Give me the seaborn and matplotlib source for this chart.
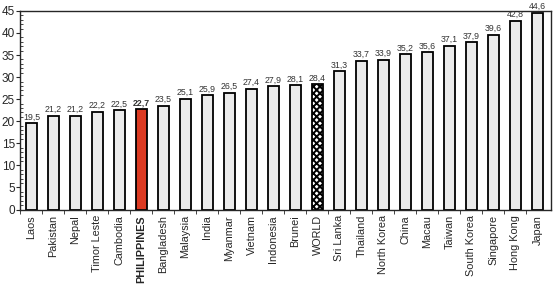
import matplotlib
matplotlib.use('Agg')
import matplotlib.pyplot as plt
import seaborn as sns
import pandas as pd
from matplotlib.ticker import MultipleLocator

# --- datos ---
paises = ['Laos', 'Pakistan', 'Nepal', 'Timor Leste', 'Cambodia', 'PHILIPPINES',
          'Bangladesh', 'Malaysia', 'India', 'Myanmar', 'Vietnam', 'Indonesia',
          'Brunei', 'WORLD', 'Sri Lanka', 'Thailand', 'North Korea', 'China',
          'Macau', 'Taiwan', 'South Korea', 'Singapore', 'Hong Kong', 'Japan']
valores = [19.5, 21.2, 21.2, 22.2, 22.5, 22.7, 23.5, 25.1, 25.9, 26.5, 27.4, 27.9,
           28.1, 28.4, 31.3, 33.7, 33.9, 35.2, 35.6, 37.1, 37.9, 39.6, 42.8, 44.6]
destacado = 'PHILIPPINES'
mundo = 'WORLD'

df = pd.DataFrame({'pais': paises, 'valor': valores})

sns.set_style('ticks')
plt.rcParams['font.family'] = ['Liberation Sans', 'DejaVu Sans']
plt.rcParams['hatch.linewidth'] = 1.4

fig = plt.figure(figsize=(5.53, 2.87), dpi=100)
ax = fig.add_axes([0.037, 0.27, 0.96, 0.692])

colores = ['#dc3a22' if p == destacado else '#ebebeb' for p in paises]
sns.barplot(data=df, x='pais', y='valor', hue='pais', palette=colores,
            saturation=1, legend=False, width=0.5, edgecolor='black',
            linewidth=1.3, ax=ax)

for bar, p in zip(ax.patches, paises):
    if p == mundo:
        bar.set_facecolor('white')
        bar.set_hatch('xxxxx')

for i, v in enumerate(valores):
    txt = f'{v:.1f}'.replace('.', ',')
    ax.text(i, v + 0.4, txt, ha='center', va='bottom', fontsize=6.3,
            color='#333333', fontweight='bold' if paises[i] == destacado else 'normal')

ax.set_ylim(0, 45)
ax.set_xlim(-0.5, len(paises) - 0.37)
ax.yaxis.set_major_locator(MultipleLocator(5))
ax.yaxis.set_minor_locator(MultipleLocator(1))
ax.tick_params(axis='y', labelsize=8.5, length=3, pad=1)
ax.tick_params(axis='y', which='minor', length=2, direction='in')
ax.set_xticks([i + 0.5 for i in range(-1, len(paises) - 1)], minor=True)
ax.tick_params(axis='x', which='major', length=0, labelsize=7.8, rotation=90, pad=4)
ax.tick_params(axis='x', which='minor', length=3)
for lbl in ax.get_xticklabels():
    if lbl.get_text() == destacado:
        lbl.set_fontweight('bold')
ax.set_xlabel('')
ax.set_ylabel('')
for s in ax.spines.values():
    s.set_linewidth(1)

fig.savefig('out.png', dpi=100)
